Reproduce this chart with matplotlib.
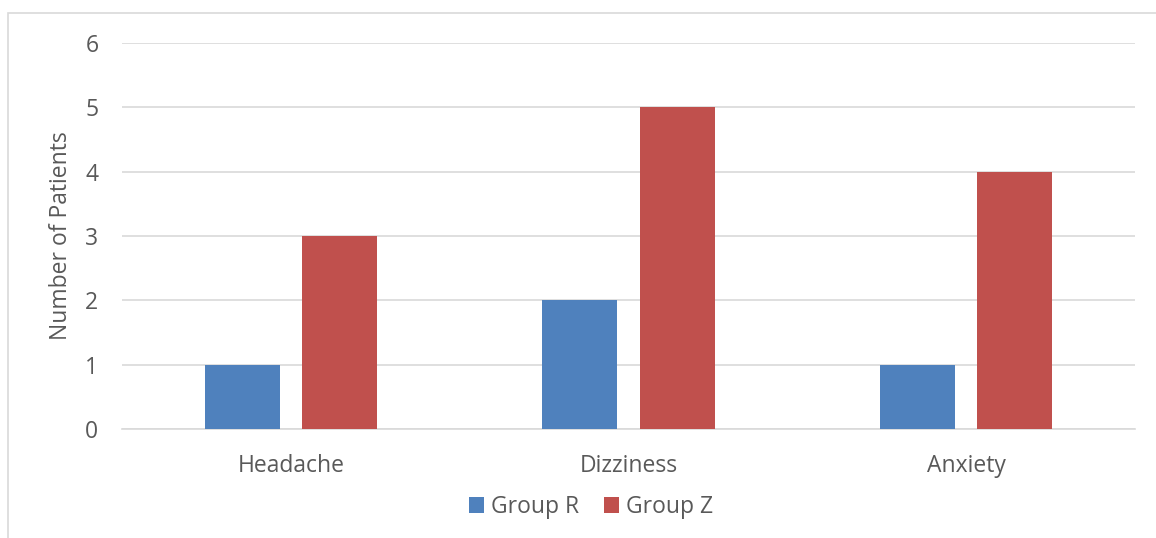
import matplotlib.pyplot as plt
import numpy as np
from matplotlib.patches import Rectangle

plt.rcParams['font.family'] = ['Open Sans', 'DejaVu Sans']

categories = ['Headache', 'Dizziness', 'Anxiety']
group_r = [1, 2, 1]
group_z = [3, 5, 4]
series_names = ['Group R', 'Group Z']

W, H = 1156, 538
fig = plt.figure(figsize=(W / 100, H / 100), dpi=100)
ax = fig.add_axes([122 / W, 109 / H, (1135 - 122) / W, (429 - 43) / H])

# chart border (top/left visible in the reference)
fig.patches.append(Rectangle((8 / W, -0.1), 1.2, (538 - 13) / H + 0.1,
                             transform=fig.transFigure, fill=False,
                             edgecolor='#D9D9D9', linewidth=1.2))

x = np.arange(len(categories))
bw = 0.222
off = 0.144
ax.bar(x - off, group_r, bw, color='#4F81BD', label=series_names[0], zorder=3)
ax.bar(x + off, group_z, bw, color='#C0504D', label=series_names[1], zorder=3)

ax.set_xlim(-0.5, len(categories) - 0.5)
ax.set_ylim(0, 6)
ax.set_yticks(range(0, 7))
ax.set_xticks(x)
ax.set_xticklabels(categories)
ax.grid(axis='y', color='#D9D9D9', linewidth=1.2, zorder=0)
for s in ['top', 'right', 'left']:
    ax.spines[s].set_visible(False)
ax.spines['bottom'].set_color('#D9D9D9')
ax.spines['bottom'].set_linewidth(1.2)
ax.tick_params(axis='both', length=0, labelsize=16.5, colors='#595959')
ax.tick_params(axis='y', pad=17)
ax.tick_params(axis='x', pad=18)
ax.set_ylabel('Number of Patients', fontsize=16.5, color='#595959', labelpad=9)

ax.legend(loc='center', bbox_to_anchor=(591 / W, 1 - 507 / H),
          bbox_transform=fig.transFigure, ncol=2, frameon=False,
          fontsize=16.5, labelcolor='#595959', handlelength=0.65,
          handleheight=0.65, handletextpad=0.3, columnspacing=1.1)

fig.savefig('out.png', dpi=100, facecolor='white')
